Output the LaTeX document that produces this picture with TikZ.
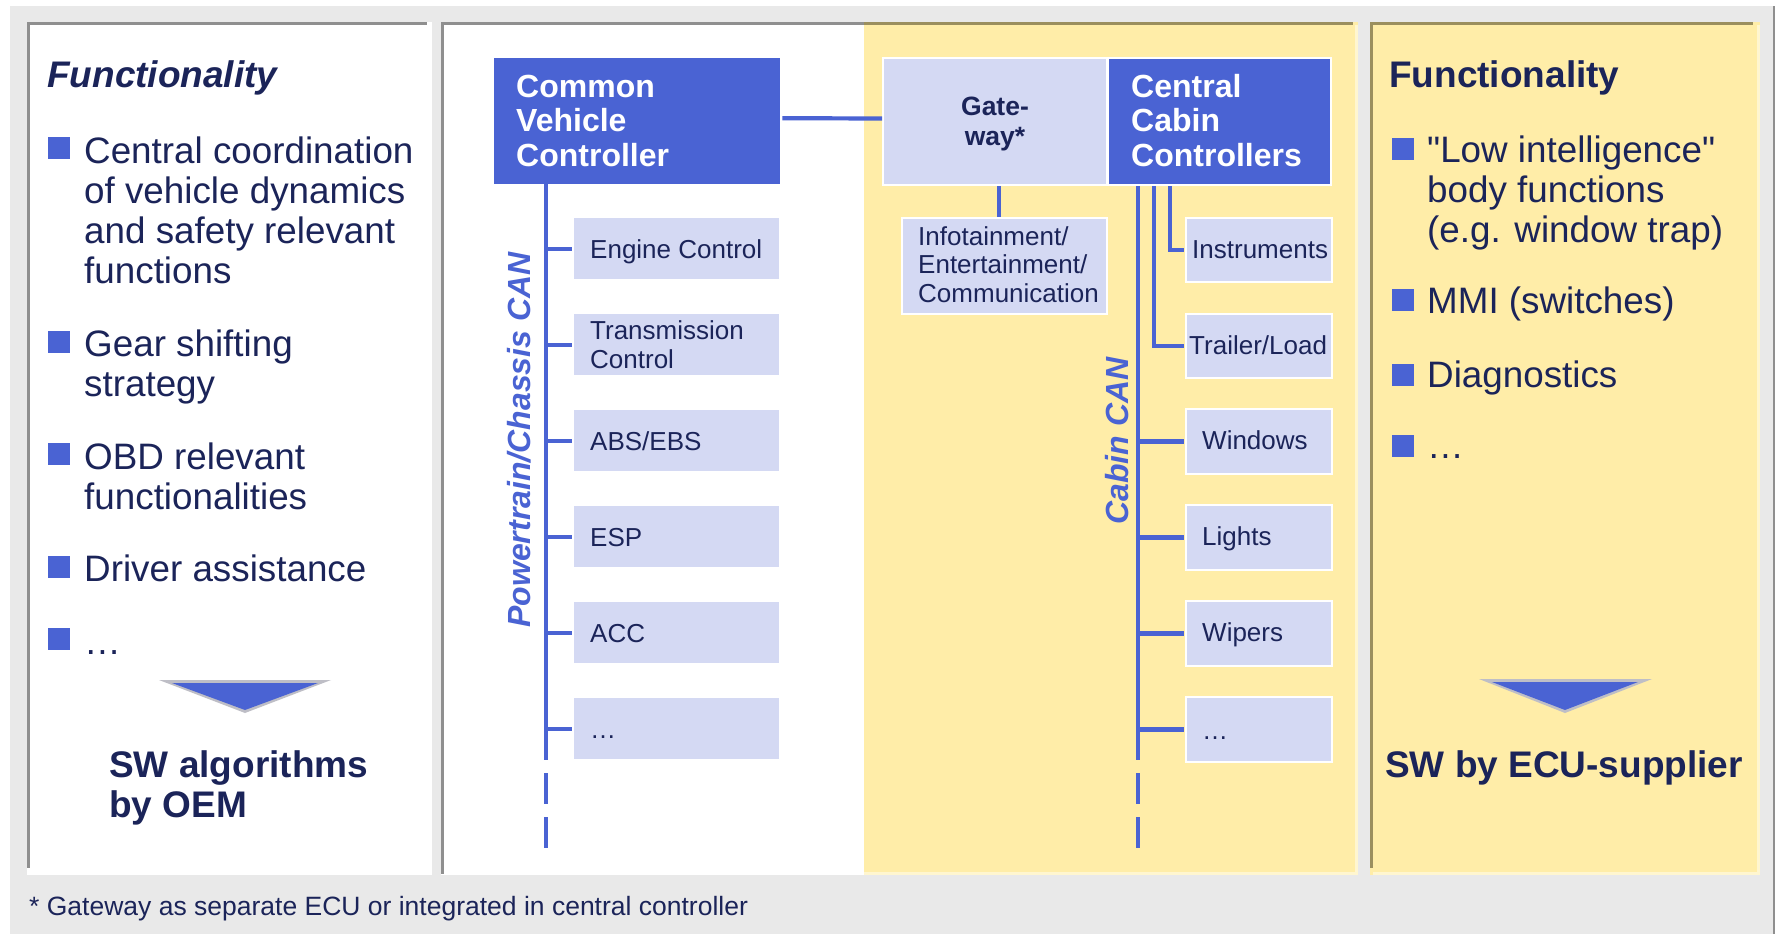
\documentclass[tikz,border=0pt]{standalone}
\usepackage{fontspec}
\setmainfont{Liberation Sans}
\newcommand\strq{\XeTeXglyph\XeTeXcharglyph"22\relax}
\definecolor{bggray}{HTML}{E9E9E9}
\definecolor{pgray}{HTML}{8F8F8F}
\definecolor{olive}{HTML}{9B8F5E}
\definecolor{cyellow}{HTML}{FFEDA8}
\definecolor{yedge}{HTML}{FFF6D0}
\definecolor{cblue}{HTML}{4A63D3}
\definecolor{boxlight}{HTML}{D4D9F3}
\definecolor{navy}{HTML}{1B2459}
\definecolor{agray}{HTML}{BEBEC6}
\begin{document}
\begin{tikzpicture}[x=1pt,y=-1pt,
  txt/.style={inner sep=0pt, anchor=base west, text=navy},
  bigtxt/.style={font=\fontsize{36.8}{40}\selectfont},
  headtxt/.style={font=\bfseries\fontsize{37}{40}\selectfont},
  smalltxt/.style={font=\fontsize{26}{28.5}\selectfont},
  wtxt/.style={inner sep=0pt, anchor=base west, text=white, font=\bfseries\fontsize{32}{34.5}\selectfont, align=left},
  sq/.style={fill=cblue, minimum size=22pt, inner sep=0pt},
  bus/.style={draw=cblue, line width=4.2pt},
  lbox/.style={fill=boxlight, inner sep=0pt, anchor=north west},
  wlbox/.style={fill=boxlight, draw=white, line width=2pt, inner sep=0pt, anchor=north west},
  dbox/.style={fill=cblue, inner sep=0pt, anchor=north west},
  wdbox/.style={fill=cblue, draw=white, line width=2pt, inner sep=0pt, anchor=north west},
  canlbl/.style={rotate=90, inner sep=0pt, text=cblue, font=\bfseries\itshape\fontsize{32}{36}\selectfont},
]
\useasboundingbox (0,0) rectangle (1775,934);
% background
\fill[bggray] (10,6) rectangle (1775,934);
\fill[pgray] (1772.5,6) rectangle (1775,934);
% left panel
\fill[white] (27,22) rectangle (432,875);
\fill[pgray] (27,22) rectangle (427,25);
\fill[pgray] (27,22) rectangle (30,868);
% middle panel
\fill[white] (441,22) rectangle (864,875);
\fill[cyellow] (864,22) rectangle (1358,875);
\fill[yedge] (1355,25) rectangle (1358,875);
\fill[yedge] (864,872) rectangle (1358,875);
\fill[pgray] (441,22) rectangle (864,25);
\fill[olive] (864,22) rectangle (1353,25);
\fill[pgray] (441,22) rectangle (444,874);
% right panel
\fill[cyellow] (1370,22) rectangle (1760,875);
\fill[yedge] (1757,25) rectangle (1760,875);
\fill[yedge] (1373,872) rectangle (1760,875);
\fill[olive] (1370,22) rectangle (1753,25);
\fill[olive] (1370,22) rectangle (1373,868);

% ---------- left panel text ----------
\node[txt, font=\bfseries\itshape\fontsize{37}{40}\selectfont] (lhead) at (47,88) {Functionality};
\node[sq] (lb1) at (59,148) {};
\node[txt, bigtxt, align=left] (lt1) at (84,283) {Central coordination\\of vehicle dynamics\\and safety relevant\\functions};
\node[sq] (lb2) at (59,342) {};
\node[txt, bigtxt, align=left] (lt2) at (84,396) {Gear shifting\\strategy};
\node[sq] (lb3) at (59,454) {};
\node[txt, bigtxt, align=left] (lt3) at (84,509) {OBD relevant\\functionalities};
\node[sq] (lb4) at (59,567) {};
\node[txt, bigtxt] (lt4) at (84,581) {Driver assistance};
\node[sq] (lb5) at (59,639) {};
\node[txt, bigtxt] (lt5) at (84,654) {…};
\fill[agray] (159,680) -- (331,680) -- (245,713) -- cycle;
\fill[cblue] (172,683) -- (318,683) -- (245,710) -- cycle;
\node[txt, headtxt, align=left] (lsw) at (109,817) {SW algorithms\\by OEM};

% ---------- right panel text ----------
\node[txt, headtxt] (rhead) at (1389,88) {Functionality};
\node[sq] (rb1) at (1403,149) {};
\node[txt, bigtxt, align=left] (rt1) at (1427,242) {\strq Low intelligence\strq\\body functions\\(e.g. window trap)};
\node[sq] (rb2) at (1403,300) {};
\node[txt, bigtxt] (rt2) at (1427,313) {MMI (switches)};
\node[sq] (rb3) at (1403,375) {};
\node[txt, bigtxt] (rt3) at (1427,387) {Diagnostics};
\node[sq] (rb4) at (1403,446) {};
\node[txt, bigtxt] (rt4) at (1427,458) {…};
\fill[agray] (1479,679) -- (1652,679) -- (1565,713) -- cycle;
\fill[cblue] (1492,682) -- (1638,682) -- (1565,710) -- cycle;
\node[txt, headtxt] (rsw) at (1385,777) {SW by ECU-supplier};

% ---------- footer ----------
\node[txt, font=\fontsize{26.5}{30}\selectfont] (foot) at (29,915) {* Gateway as separate ECU or integrated in central controller};

% ---------- middle: coordinates ----------
\coordinate (ptx) at (546,0);
\coordinate (ptend) at (546,760);
\coordinate (cbx) at (1138,0);
\coordinate (cbend) at (1138,760);
\coordinate (c2) at (1154,0);
\coordinate (c3) at (1170,0);
\coordinate (gx) at (999,0);

% boxes (top)
\node[dbox, minimum width=286pt, minimum height=126pt] (cvc) at (494,58) {};
\node[wlbox, minimum width=224pt, minimum height=127pt] (gw) at (882,57) {};
\node[wdbox, minimum width=223pt, minimum height=127pt] (ccc) at (1107,57) {};

% bus lines
\draw[bus] ([yshift=3pt,xshift=2pt]cvc.east) -- ([yshift=3pt]gw.west);
\draw[bus] (cvc.south -| ptx) -- (ptend);
\draw[bus, dash pattern=on 31pt off 13pt] (546,773) -- (546,848);
\draw[bus] (ccc.south -| cbx) -- (cbend);
\draw[bus, dash pattern=on 31pt off 13pt] (1138,773) -- (1138,848);

% powertrain boxes
\node[lbox, minimum width=205pt, minimum height=61pt] (eng) at (574,218) {};
\node[lbox, minimum width=205pt, minimum height=61pt] (trans) at (574,314) {};
\node[lbox, minimum width=205pt, minimum height=61pt] (abs) at (574,410) {};
\node[lbox, minimum width=205pt, minimum height=61pt] (esp) at (574,506) {};
\node[lbox, minimum width=205pt, minimum height=61pt] (acc) at (574,602) {};
\node[lbox, minimum width=205pt, minimum height=61pt] (ptdots) at (574,698) {};
\foreach \b in {eng,trans,abs,esp,acc,ptdots}
  \draw[bus] (ptx |- \b.west) -- ([xshift=-2pt]\b.west);

\node[txt, smalltxt] at (590,258) {Engine Control};
\node[txt, smalltxt, align=left] at (590,368) {Transmission\\Control};
\node[txt, smalltxt] at (590,450) {ABS/EBS};
\node[txt, smalltxt] at (590,546) {ESP};
\node[txt, smalltxt] at (590,642) {ACC};
\node[txt, smalltxt] at (590,738) {…};

% gateway sub box
\node[wlbox, minimum width=205pt, minimum height=96pt] (info) at (901,217) {};
\draw[bus] (gw.south -| gx) -- (info.north -| gx);
\node[txt, smalltxt, align=left] at (918,302) {Infotainment/\\Entertainment/\\Communication};

% cabin boxes
\node[wlbox, minimum width=146pt, minimum height=64pt] (inst) at (1185,217) {};
\node[wlbox, minimum width=146pt, minimum height=64pt] (trail) at (1185,313) {};
\node[wlbox, minimum width=146pt, minimum height=65pt] (win) at (1185,408) {};
\node[wlbox, minimum width=146pt, minimum height=65pt] (lights) at (1185,504) {};
\node[wlbox, minimum width=146pt, minimum height=65pt] (wipers) at (1185,600) {};
\node[wlbox, minimum width=146pt, minimum height=65pt] (cbdots) at (1185,696) {};
\draw[bus] (ccc.south -| c2) |- ([xshift=-1pt]trail.west);
\draw[bus] (ccc.south -| c3) |- ([xshift=-1pt]inst.west);
\foreach \b in {win,lights,wipers,cbdots}
  \draw[bus] (cbx |- \b.west) -- ([xshift=-1pt]\b.west);

\node[txt, smalltxt] at (1192,258) {Instruments};
\node[txt, smalltxt] at (1189,354) {Trailer/Load};
\node[txt, smalltxt] at (1202,449) {Windows};
\node[txt, smalltxt] at (1202,545) {Lights};
\node[txt, smalltxt] at (1202,641) {Wipers};
\node[txt, smalltxt] at (1202,739) {…};

% top box texts
\node[wtxt] (cvct) at (516,166) {Common\\Vehicle\\Controller};
\node[txt, anchor=base, align=center, font=\bfseries\fontsize{26.5}{30}\selectfont] (gwt) at (995,145) {Gate-\\way*};
\node[wtxt] (ccct) at (1131,166) {Central\\Cabin\\Controllers};

% CAN labels
\node[canlbl] (ptcan) at (519,440) {Powertrain/Chassis CAN};
\node[canlbl] (cabcan) at (1117,441) {Cabin CAN};
\end{tikzpicture}
\end{document}
